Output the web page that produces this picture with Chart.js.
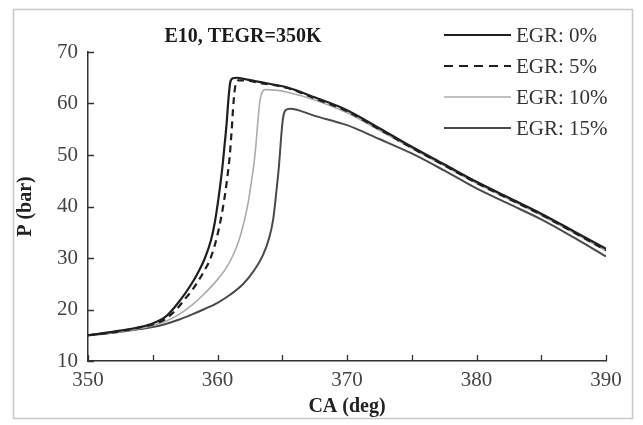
<!DOCTYPE html>
<html>
<head>
<meta charset="utf-8">
<script src="https://cdn.jsdelivr.net/npm/chart.js@4.4.1/dist/chart.umd.min.js"></script>
<style>
  html, body { margin: 0; padding: 0; background: #ffffff; }
  #wrap { width: 643px; height: 425px; position: relative; }
</style>
</head>
<body>
<div id="wrap"><canvas id="c" width="643" height="425"></canvas></div>
<script>
// ---- Data ----
const chartTitle = "E10, TEGR=350K";
const xTitle = "CA (deg)";
const yTitle = "P (bar)";
const seriesLabels = ["EGR: 0%", "EGR: 5%", "EGR: 10%", "EGR: 15%"];

const ca0 = [350,352,354,355,356,357,358,358.5,359,359.5,359.8,360.1,360.35,360.55,360.7,360.85,361.0,361.2,361.5,362.2,363,365.4,367.5,370,372.5,375,377.5,380,382.5,385,387.5,390];
const p0  = [15.0,15.7,16.6,17.3,18.6,21.4,25.0,27.2,29.8,33.5,37.0,42.0,47.0,52.0,56.0,61.0,64.3,64.9,65.0,64.7,64.3,63.1,61.2,58.7,55.2,51.6,48.2,44.8,41.7,38.6,35.2,31.8];

const ca5 = [350,352,354,355,356,357,357.4,358,358.5,359,359.5,360,360.4,360.7,360.95,361.1,361.2,361.35,361.6,362.2,363,365.4,367.5,370,372.5,375,377.5,380,382.5,385,387.5,390];
const p5  = [15.0,15.6,16.5,17.1,18.2,20.5,21.8,23.6,25.5,27.6,30.2,34.5,39.5,44.5,50.0,55.0,59.0,63.0,64.5,64.5,64.1,63.0,61.0,58.5,55.0,51.4,48.0,44.6,41.5,38.4,35.0,31.5];

const ca10 = [350,352,354,355,356,357,358,359,360,360.6,361.1,361.6,362.0,362.35,362.6,362.8,362.97,363.1,363.25,363.45,363.7,364.5,365.4,367.5,370,372.5,375,377.5,380,382.5,385,387.5,390];
const p10  = [15.0,15.5,16.3,16.9,17.7,19.0,20.8,23.1,25.8,27.8,30.0,33.0,36.5,40.5,44.5,48.0,52.0,56.0,60.0,62.2,62.7,62.6,62.2,60.7,58.2,54.8,51.3,47.9,44.5,41.4,38.3,34.9,31.4];

const ca15 = [350,352,354,355,356,357,358,359,360,361,362,362.8,363.5,364,364.3,364.55,364.75,364.9,365.05,365.25,365.6,367.5,370,372.5,375,377.5,380,382.5,385,387.5,390];
const p15  = [15.0,15.5,16.2,16.6,17.2,18.0,19.0,20.1,21.3,22.9,25.0,27.5,30.5,34.0,37.5,43.0,48.0,53.0,57.0,58.7,59.0,57.6,55.8,53.1,50.3,47.0,43.5,40.5,37.5,34.0,30.3];

const xTickLabels = [350, 360, 370, 380, 390];
const yTickLabels = [10, 20, 30, 40, 50, 60, 70];

function pts(xs, ys) { return xs.map((x, i) => ({ x: x, y: ys[i] })); }

const serif = "'Liberation Serif', 'DejaVu Serif', serif";

const styles = [
  { color: '#1f1f1f', width: 2.2, dash: [] },
  { color: '#1f1f1f', width: 2.2, dash: [7, 5] },
  { color: '#ababab', width: 1.6, dash: [] },
  { color: '#4a4a4a', width: 2.0, dash: [] }
];

const seriesData = [pts(ca0, p0), pts(ca5, p5), pts(ca10, p10), pts(ca15, p15)];

const datasets = seriesData.map((d, i) => ({
  label: seriesLabels[i],
  data: d,
  borderColor: styles[i].color,
  borderWidth: styles[i].width,
  borderDash: styles[i].dash,
  pointRadius: 0,
  fill: false,
  cubicInterpolationMode: 'monotone'
}));

// frame + inward ticks + title + legend
const decor = {
  id: 'decor',
  beforeDraw(chart) {
    const ctx = chart.ctx;
    ctx.save();
    ctx.fillStyle = '#ffffff';
    ctx.fillRect(0, 0, chart.width, chart.height);
    ctx.strokeStyle = '#c8c8c8';
    ctx.lineWidth = 1.5;
    ctx.strokeRect(13.5, 9.5, 619, 409);
    ctx.restore();
  },
  afterDraw(chart) {
    const ctx = chart.ctx;
    const xs = chart.scales.x, ys = chart.scales.y;
    const a = chart.chartArea;
    ctx.save();
    ctx.strokeStyle = '#333333';
    ctx.lineWidth = 1.3;
    ctx.beginPath();
    xs.ticks.forEach(t => {
      const px = Math.round(xs.getPixelForValue(t.value)) + 0.5;
      ctx.moveTo(px, a.bottom); ctx.lineTo(px, a.bottom - 6);
    });
    ys.ticks.forEach(t => {
      const py = Math.round(ys.getPixelForValue(t.value)) + 0.5;
      ctx.moveTo(a.left, py); ctx.lineTo(a.left + 6, py);
    });
    ctx.stroke();

    // title
    ctx.fillStyle = '#1a1a1a';
    ctx.font = "bold 20px " + serif;
    ctx.textAlign = 'center';
    ctx.textBaseline = 'middle';
    ctx.fillText(chartTitle, 243, 37);

    // legend
    const rowY = [35, 66, 97, 128];
    chart.data.datasets.forEach((ds, i) => {
      const y = rowY[i];
      ctx.beginPath();
      ctx.strokeStyle = ds.borderColor;
      ctx.lineWidth = ds.borderWidth;
      ctx.setLineDash(ds.borderDash.length ? [9, 6] : []);
      ctx.moveTo(444, y); ctx.lineTo(511, y);
      ctx.stroke();
      ctx.setLineDash([]);
      ctx.fillStyle = '#333333';
      ctx.font = "21px " + serif;
      ctx.textAlign = 'left';
      ctx.textBaseline = 'middle';
      ctx.fillText(ds.label, 516, y + 1);
    });
    ctx.restore();
  }
};

new Chart(document.getElementById('c'), {
  type: 'line',
  data: { datasets: datasets },
  options: {
    responsive: false,
    animation: false,
    devicePixelRatio: 1,
    layout: { padding: { left: 14, right: 37, top: 52, bottom: 6 } },
    plugins: { legend: { display: false }, title: { display: false }, tooltip: { enabled: false } },
    scales: {
      x: {
        type: 'linear',
        min: 350, max: 390,
        grid: { display: true, drawOnChartArea: false, drawTicks: false, color: 'rgba(0,0,0,0)' },
        border: { display: true, color: '#333333', width: 1.5 },
        ticks: {
          stepSize: 5,
          autoSkip: false,
          maxRotation: 0,
          padding: 7,
          color: '#444444',
          font: { family: serif, size: 21 },
          callback: v => xTickLabels.includes(v) ? String(v) : ''
        },
        title: { display: true, text: xTitle, color: '#222222', font: { family: serif, size: 20, weight: 'bold' }, padding: { top: 0, bottom: 0 } },
        afterFit: s => { s.height = 58; }
      },
      y: {
        type: 'linear',
        min: 10, max: 70,
        grid: { display: true, drawOnChartArea: false, drawTicks: false, color: 'rgba(0,0,0,0)' },
        border: { display: true, color: '#333333', width: 1.5 },
        ticks: {
          stepSize: 10,
          padding: 10,
          color: '#444444',
          font: { family: serif, size: 21 },
          callback: v => yTickLabels.includes(v) ? String(v) : ''
        },
        title: { display: true, text: yTitle, color: '#222222', font: { family: serif, size: 20, weight: 'bold' }, padding: { top: 0, bottom: 2 } },
        afterFit: s => { s.width = 74; }
      }
    }
  },
  plugins: [decor]
});
</script>
</body>
</html>
